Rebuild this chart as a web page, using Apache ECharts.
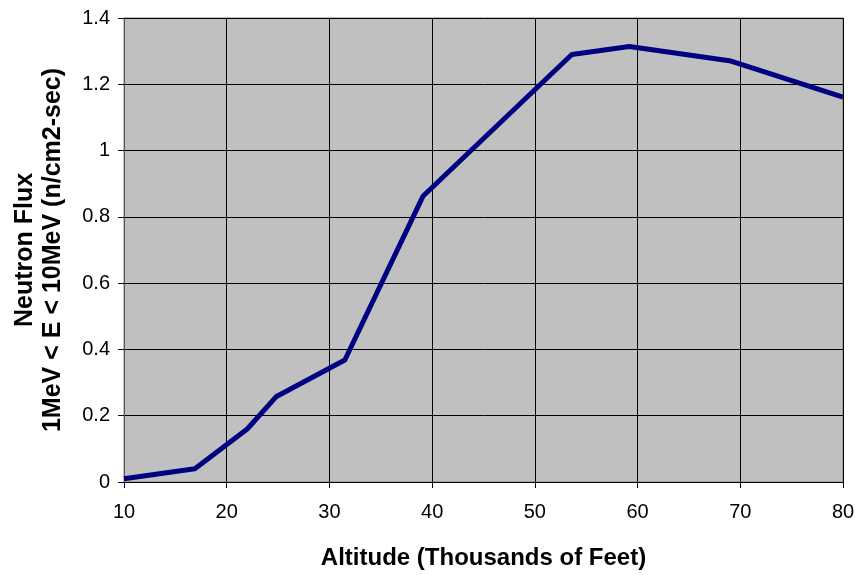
<!DOCTYPE html>
<html><head><meta charset="utf-8">
<script src="https://cdn.jsdelivr.net/npm/echarts@6/dist/echarts.min.js"></script>
<style>html,body{margin:0;padding:0;background:#fff}#c{width:855px;height:575px}</style>
</head><body><div id="c"></div>
<script>
const altitude = [10, 16.9, 22, 24.8, 31.5, 39.1, 53.6, 59.2, 69.1, 80];
const flux = [0.01, 0.04, 0.16, 0.257, 0.368, 0.862, 1.29, 1.314, 1.27, 1.161];
const xTicks = [10, 20, 30, 40, 50, 60, 70, 80];
const yTicks = [0, 0.2, 0.4, 0.6, 0.8, 1, 1.2, 1.4];
const xTitle = 'Altitude (Thousands of Feet)';
const yTitle = 'Neutron Flux\n1MeV < E < 10MeV (n/cm2-sec)';

const chart = echarts.init(document.getElementById('c'), null, {renderer: 'canvas'});
const font = 'Liberation Sans, Arial, sans-serif';
chart.setOption({
  animation: false,
  grid: {left: 124, right: 12, top: 18, bottom: 93, containLabel: false, outerBoundsMode: 'none',
    show: true, backgroundColor: '#c0c0c0', borderColor: '#808080', borderWidth: 1},
  xAxis: {
    type: 'value', min: 10, max: 80, interval: 10,
    name: xTitle, nameLocation: 'middle', nameGap: 64,
    nameTextStyle: {fontFamily: font, fontWeight: 'bold', fontSize: 24, color: '#000'},
    axisLine: {show: true, lineStyle: {color: '#000', width: 1}},
    axisTick: {show: true, length: 6, lineStyle: {color: '#000'}},
    axisLabel: {fontFamily: font, fontSize: 20, color: '#000', margin: 20,
      formatter: v => xTicks.includes(v) ? String(v) : ''},
    splitLine: {show: true, lineStyle: {color: '#000', width: 1}}
  },
  yAxis: {
    type: 'value', min: 0, max: 1.4, interval: 0.2,
    name: yTitle, nameLocation: 'middle', nameGap: 57, nameRotate: 90,
    nameTextStyle: {fontFamily: font, fontWeight: 'bold', fontSize: 25, color: '#000', lineHeight: 28},
    axisLine: {show: true, lineStyle: {color: '#555', width: 1}},
    axisTick: {show: true, length: 6, lineStyle: {color: '#000'}},
    axisLabel: {fontFamily: font, fontSize: 20, color: '#000', margin: 14,
      formatter: v => { const t = yTicks.find(k => Math.abs(k - v) < 1e-9); return t === undefined ? '' : String(+t.toFixed(1)); }},
    splitLine: {show: true, lineStyle: {color: '#000', width: 1}}
  },
  series: [{
    type: 'line',
    data: altitude.map((a, i) => [a, flux[i]]),
    showSymbol: false,
    lineStyle: {color: '#000080', width: 5},
    clip: false
  }]
});
</script></body></html>
